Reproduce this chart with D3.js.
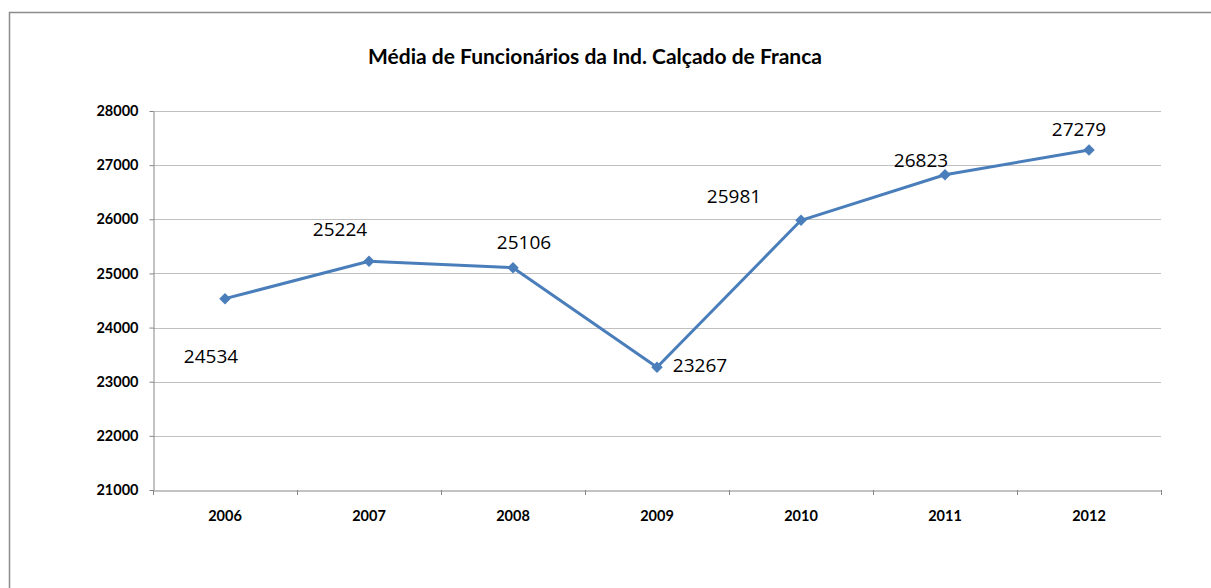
<!DOCTYPE html>
<html>
<head>
<meta charset="utf-8">
<script src="https://cdn.jsdelivr.net/npm/d3@7"></script>
<style>
  html, body { margin: 0; padding: 0; background: #fff; }
  svg { display: block; }
</style>
</head>
<body>
<svg id="chart" width="1211" height="588"></svg>
<script>
const title = "Média de Funcionários da Ind. Calçado de Franca";
const years = ["2006", "2007", "2008", "2009", "2010", "2011", "2012"];
const values = [24534, 25224, 25106, 23267, 25981, 26823, 27279];
const yTicks = [21000, 22000, 23000, 24000, 25000, 26000, 27000, 28000];

// label placement (style): offsets from the point, in px
const labelOffsets = [[-14, 64], [-29, -25], [11, -19], [43, 5], [-67, -17], [-24, -8], [-10, -14]];

const svg = d3.select("#chart");
const m = { left: 153, right: 1161, top: 111, bottom: 490 };

// outer chart border
svg.append("rect")
  .attr("x", 9.5).attr("y", 12.5)
  .attr("width", 1300).attr("height", 700)
  .attr("fill", "#fff").attr("stroke", "#8c8c8c").attr("stroke-width", 1.5);

const x = d3.scaleBand().domain(years).range([m.left, m.right]);
const y = d3.scaleLinear().domain([21000, 28000]).range([m.bottom, m.top]);

// gridlines
svg.append("g")
  .selectAll("line")
  .data(yTicks.slice(1))
  .join("line")
  .attr("x1", m.left).attr("x2", m.right)
  .attr("y1", d => Math.round(y(d)) + 0.5).attr("y2", d => Math.round(y(d)) + 0.5)
  .attr("stroke", "#c0c0c0").attr("stroke-width", 1);

// y axis
const yAxis = svg.append("g")
  .attr("transform", `translate(${m.left + 0.5},0)`)
  .call(d3.axisLeft(y).tickValues(yTicks).tickSize(4).tickSizeOuter(0).tickPadding(11).tickFormat(d3.format("d")));
yAxis.select(".domain").attr("stroke", "#868686");
yAxis.selectAll(".tick line").attr("stroke", "#868686");
yAxis.selectAll("text")
  .attr("font-family", "Lato, 'Open Sans', sans-serif")
  .attr("font-weight", "bold").attr("font-size", "14.5px").attr("fill", "#000");

// x axis
const xAxis = svg.append("g")
  .attr("transform", `translate(0,${m.bottom + 0.5})`)
  .call(d3.axisBottom(x).tickSize(0).tickSizeOuter(0).tickPadding(20));
xAxis.select(".domain").attr("stroke", "#868686");
xAxis.selectAll("text")
  .attr("font-family", "Lato, 'Open Sans', sans-serif")
  .attr("font-weight", "bold").attr("font-size", "14.5px").attr("fill", "#000");
// category boundary ticks
const bounds = years.map(d => x(d)).concat([x(years[years.length - 1]) + x.bandwidth()]);
svg.append("g")
  .selectAll("line")
  .data(bounds)
  .join("line")
  .attr("x1", d => Math.round(d) + 0.5).attr("x2", d => Math.round(d) + 0.5)
  .attr("y1", m.bottom).attr("y2", m.bottom + 5)
  .attr("stroke", "#868686");

// line
const cx = d => x(d) + x.bandwidth() / 2;
const pts = years.map((yr, i) => ({ yr, v: values[i], i }));
svg.append("path")
  .datum(pts)
  .attr("fill", "none")
  .attr("stroke", "#4A7EBB")
  .attr("stroke-width", 3)
  .attr("stroke-linejoin", "round")
  .attr("d", d3.line().x(d => cx(d.yr)).y(d => y(d.v)));

// diamond markers
svg.append("g")
  .selectAll("path")
  .data(pts)
  .join("path")
  .attr("transform", d => `translate(${cx(d.yr)},${y(d.v)})`)
  .attr("d", d3.symbol(d3.symbolDiamond2, 85))
  .attr("fill", "#4A7EBB");

// data labels
svg.append("g")
  .selectAll("text")
  .data(pts)
  .join("text")
  .attr("x", d => cx(d.yr) + labelOffsets[d.i][0])
  .attr("y", d => y(d.v) + labelOffsets[d.i][1])
  .attr("text-anchor", "middle")
  .attr("font-family", "'Open Sans', Lato, sans-serif")
  .attr("font-size", "19px")
  .attr("fill", "#000")
  .text(d => d.v);

// title
svg.append("text")
  .attr("x", 595).attr("y", 64)
  .attr("text-anchor", "middle")
  .attr("font-family", "Lato, 'Open Sans', sans-serif")
  .attr("font-weight", "bold").attr("font-size", "21px")
  .attr("fill", "#000")
  .text(title);
</script>
</body>
</html>
